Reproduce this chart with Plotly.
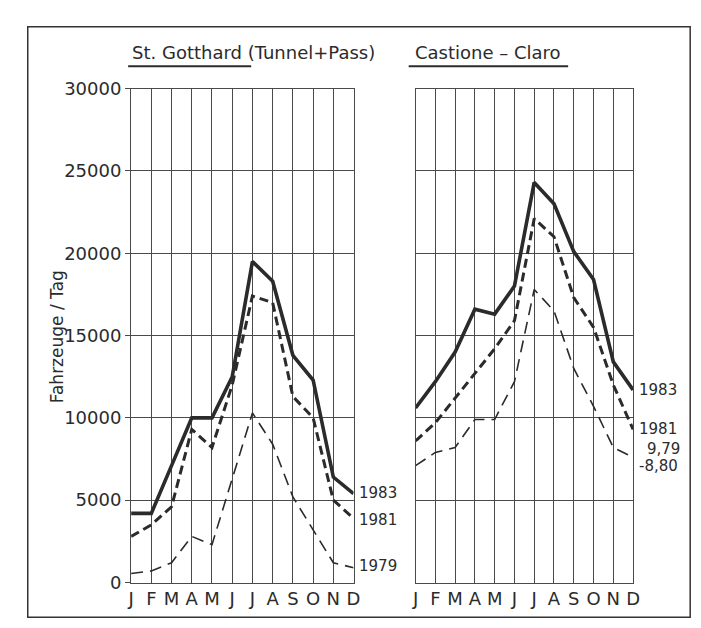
import plotly.graph_objects as go

months = ["J", "F", "M", "A", "M", "J", "J", "A", "S", "O", "N", "D"]
month_idx = list(range(12))

gotthard_1983 = [4200, 4200, 7100, 10000, 10000, 12500, 19500, 18300, 13800, 12300, 6400, 5400]
gotthard_1981 = [2800, 3500, 4600, 9300, 8200, 12000, 17400, 17000, 11300, 10000, 5000, 3900]
gotthard_1979 = [550, 700, 1200, 2800, 2300, 6300, 10300, 8400, 5200, 3200, 1200, 900]

castione_1983 = [10600, 12200, 14000, 16600, 16300, 18000, 24300, 23000, 20100, 18400, 13400, 11700]
castione_1981 = [8600, 9700, 11200, 12700, 14200, 15900, 22100, 21000, 17300, 15500, 12000, 9300]
castione_1979 = [7100, 7900, 8200, 9900, 9900, 12200, 17800, 16500, 13000, 10700, 8200, 7600]

left_labels = ["1983", "1981", "1979"]
left_label_y = [5450, 3800, 1000]
right_labels = ["1983", "1981", "9,79", "-8,80"]
right_label_y = [11700, 9300, 8100, 7050]

title_left = "St. Gotthard (Tunnel+Pass)"
title_right = "Castione – Claro"
y_title = "Fahrzeuge / Tag"
y_ticks = [0, 5000, 10000, 15000, 20000, 25000, 30000]
y_ticktext = ["0", "5000", "10000", "15000", "20000", "25000", "30000"]

INK = "#2b2b2b"
GRID = "#4a4a4a"
FONT = "DejaVu Sans"

styles = {
    "1983": dict(color=INK, width=3.6, dash="solid"),
    "1981": dict(color=INK, width=3.0, dash="9px,5px"),
    "1979": dict(color=INK, width=1.6, dash="12px,7px"),
}

fig = go.Figure()
for series, name, xa, ya in [
    (gotthard_1979, "1979", "x", "y"),
    (gotthard_1981, "1981", "x", "y"),
    (gotthard_1983, "1983", "x", "y"),
    (castione_1979, "1979", "x2", "y2"),
    (castione_1981, "1981", "x2", "y2"),
    (castione_1983, "1983", "x2", "y2"),
]:
    fig.add_trace(go.Scatter(x=month_idx, y=series, mode="lines", name=name,
                             line=styles[name], xaxis=xa, yaxis=ya,
                             showlegend=False, hoverinfo="skip"))

W, H = 701, 628
def px_x(p):
    return p / W
def px_y(p):
    return 1 - p / H

xax = dict(range=[0, 11], tickmode="array", tickvals=month_idx, ticktext=months,
           showgrid=True, gridcolor=GRID, gridwidth=1, showline=True, linecolor=GRID,
           linewidth=1.2, mirror=True, zeroline=False, ticks="",
           tickfont=dict(family=FONT, size=18, color=INK))
yax = dict(range=[0, 30000], tickmode="array", tickvals=y_ticks,
           showgrid=True, gridcolor=GRID, gridwidth=1, showline=True, linecolor=GRID,
           linewidth=1.2, mirror=True, zeroline=False)

fig.update_layout(
    width=W, height=H,
    margin=dict(l=0, r=0, t=0, b=0),
    paper_bgcolor="white", plot_bgcolor="white",
    font=dict(family=FONT, color=INK),
    xaxis=dict(xax, domain=[px_x(121), px_x(347)], anchor="y"),
    xaxis2=dict(xax, domain=[px_x(410), px_x(631)], anchor="y2"),
    yaxis=dict(yax, domain=[px_y(583), px_y(72)], anchor="x", ticktext=y_ticktext,
               ticks="outside", ticklen=5, tickcolor=GRID,
               tickfont=dict(family=FONT, size=18, color=INK)),
    yaxis2=dict(yax, domain=[px_y(583), px_y(72)], anchor="x2", showticklabels=False),
)

annotations = []
for txt, yv in zip(left_labels, left_label_y):
    annotations.append(dict(x=11, y=yv, xref="x", yref="y", text=txt, showarrow=False,
                            xanchor="left", xshift=3, font=dict(family=FONT, size=15, color=INK)))
for i, (txt, yv) in enumerate(zip(right_labels, right_label_y)):
    annotations.append(dict(x=11, y=yv, xref="x2", yref="y2", text=txt, showarrow=False,
                            xanchor="left", xshift=(12 if txt == "9,79" else 4),
                            font=dict(family=FONT, size=15, color=INK)))
annotations.append(dict(x=px_x(245), y=px_y(35), xref="paper", yref="paper", text=title_left,
                        showarrow=False, xanchor="center", yanchor="middle",
                        font=dict(family=FONT, size=18, color=INK)))
annotations.append(dict(x=px_x(484), y=px_y(35), xref="paper", yref="paper", text=title_right,
                        showarrow=False, xanchor="center", yanchor="middle",
                        font=dict(family=FONT, size=18, color=INK)))
annotations.append(dict(x=px_x(46), y=px_y(329), xref="paper", yref="paper", text=y_title,
                        showarrow=False, textangle=-90, xanchor="center", yanchor="middle",
                        font=dict(family=FONT, size=17, color=INK)))
fig.update_layout(annotations=annotations)

shapes = [
    dict(type="rect", xref="paper", yref="paper", x0=px_x(16), x1=px_x(689),
         y0=px_y(619), y1=px_y(8), line=dict(color="#333", width=1.5)),
    dict(type="line", xref="paper", yref="paper", x0=px_x(118), x1=px_x(243),
         y0=px_y(49), y1=px_y(49), line=dict(color=INK, width=2)),
    dict(type="line", xref="paper", yref="paper", x0=px_x(403), x1=px_x(565),
         y0=px_y(49), y1=px_y(49), line=dict(color=INK, width=2)),
]
fig.update_layout(shapes=shapes)

fig.write_html("out.html")
